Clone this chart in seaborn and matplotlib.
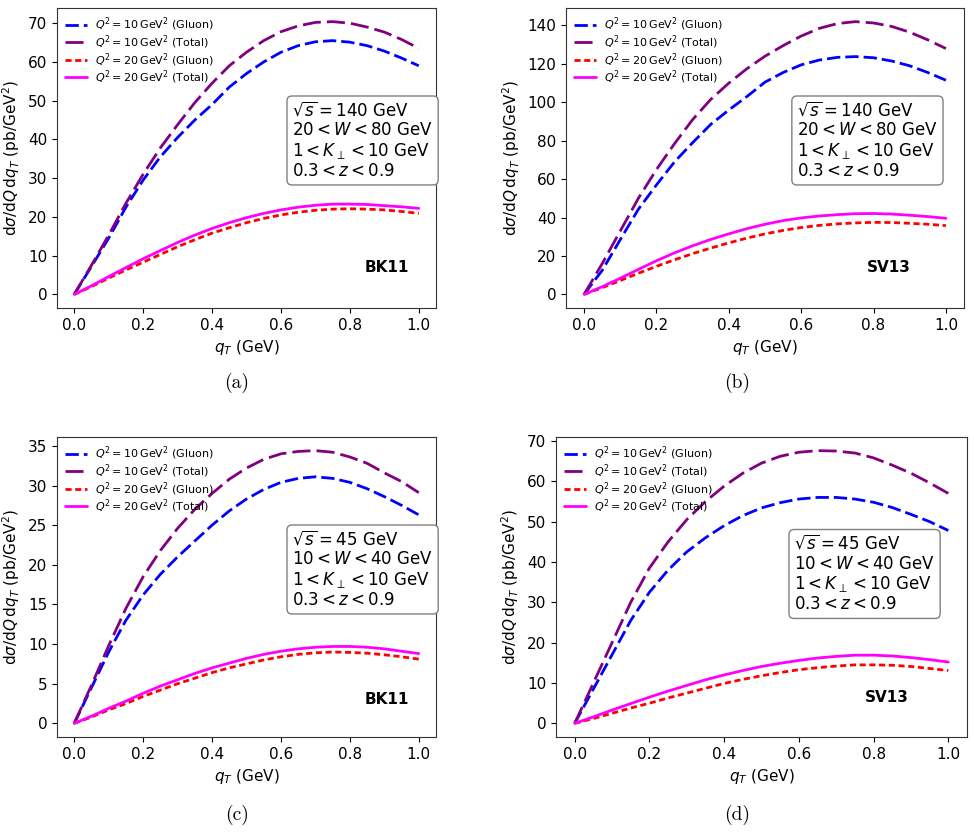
import numpy as np
import pandas as pd
import seaborn as sns
from matplotlib import pyplot as plt

q_T = [0.0, 0.05, 0.1, 0.15, 0.2, 0.25, 0.3, 0.35, 0.4, 0.45, 0.5,
       0.55, 0.6, 0.65, 0.7, 0.75, 0.8, 0.85, 0.9, 0.95, 1.0]

# (a) BK11, sqrt(s) = 140 GeV
a_gluon10 = [0, 7.2, 14.5, 22.5, 29.5, 35.5, 40.5, 45, 49, 53.5, 57,
             60, 62.5, 64.2, 65.2, 65.5, 65.1, 64.2, 62.8, 61, 59]
a_total10 = [0, 7.5, 15.3, 23.5, 31, 37.8, 43.8, 49.5, 54.5, 59, 62.5,
             65.5, 67.8, 69.3, 70.2, 70.4, 70, 69, 67.7, 65.8, 63.5]
a_gluon20 = [0, 2.0, 4.2, 6.3, 8.3, 10.3, 12.3, 14.1, 15.8, 17.2, 18.5,
             19.6, 20.5, 21.2, 21.7, 22.0, 22.1, 22.0, 21.8, 21.4, 20.9]
a_total20 = [0, 2.2, 4.6, 6.9, 9.2, 11.3, 13.4, 15.3, 17.0, 18.5, 19.8,
             20.9, 21.8, 22.5, 23.0, 23.3, 23.3, 23.2, 22.9, 22.6, 22.2]

# (b) SV13, sqrt(s) = 140 GeV
b_gluon10 = [0, 12.5, 28.5, 44.3, 57, 69, 79, 88.5, 96, 103, 110.5,
             115.5, 119.5, 122, 123.4, 123.8, 123.2, 121.5, 119, 115.5, 111.5]
b_total10 = [0, 16, 33, 50, 65, 78.5, 91, 101.5, 110, 117.5, 124,
             129.5, 134.5, 138.5, 141, 142, 141.3, 139.5, 136.5, 132.5, 128]
b_gluon20 = [0, 3.5, 7.2, 11.0, 14.6, 18.0, 21.2, 24.1, 26.8, 29.3, 31.5,
             33.3, 34.8, 35.9, 36.7, 37.2, 37.5, 37.4, 37.0, 36.5, 35.8]
b_total20 = [0, 4.0, 8.4, 13.0, 17.5, 21.6, 25.3, 28.6, 31.5, 34.2, 36.5,
             38.4, 39.8, 40.8, 41.5, 42.0, 42.1, 41.8, 41.2, 40.5, 39.6]

# (c) BK11, sqrt(s) = 45 GeV
c_gluon10 = [0, 4.5, 9.0, 13, 16.2, 18.8, 21, 23, 25, 26.8, 28.3,
             29.5, 30.4, 30.9, 31.1, 30.9, 30.4, 29.6, 28.6, 27.5, 26.3]
c_total10 = [0, 4.8, 9.8, 14.5, 18.5, 21.8, 24.6, 27, 29, 30.8, 32.2,
             33.3, 34, 34.3, 34.4, 34.2, 33.6, 32.8, 31.6, 30.5, 29.1]
c_gluon20 = [0, 0.8, 1.7, 2.5, 3.4, 4.2, 5.0, 5.7, 6.4, 7.0, 7.5,
             8.0, 8.4, 8.7, 8.9, 9.0, 8.95, 8.85, 8.65, 8.4, 8.1]
c_total20 = [0, 0.9, 1.9, 2.8, 3.8, 4.7, 5.5, 6.3, 7.0, 7.6, 8.2,
             8.7, 9.1, 9.4, 9.6, 9.7, 9.7, 9.6, 9.4, 9.1, 8.8]

# (d) SV13, sqrt(s) = 45 GeV
d_gluon10 = [0, 8.5, 17, 25.5, 32.5, 38, 42.5, 46, 49, 51.5, 53.4,
             54.7, 55.6, 56, 56, 55.6, 54.8, 53.5, 51.8, 50, 47.8]
d_total10 = [0, 10, 20, 30, 38.5, 45, 50.5, 55, 58.8, 62, 64.5,
             66.2, 67.2, 67.6, 67.5, 67, 65.8, 64, 62, 59.6, 57]
d_gluon20 = [0, 1.2, 2.5, 3.8, 5.0, 6.3, 7.5, 8.7, 9.9, 10.9, 11.8,
             12.6, 13.3, 13.8, 14.2, 14.5, 14.5, 14.4, 14.1, 13.6, 13.1]
d_total20 = [0, 1.6, 3.3, 4.9, 6.5, 8.0, 9.4, 10.8, 12.0, 13.1, 14.1,
             14.9, 15.6, 16.2, 16.6, 16.9, 16.9, 16.7, 16.3, 15.8, 15.2]

series_labels = [r'$Q^2 = 10\,\mathrm{GeV}^2$ (Gluon)',
                 r'$Q^2 = 10\,\mathrm{GeV}^2$ (Total)',
                 r'$Q^2 = 20\,\mathrm{GeV}^2$ (Gluon)',
                 r'$Q^2 = 20\,\mathrm{GeV}^2$ (Total)']

panels = [
    dict(data=[a_gluon10, a_total10, a_gluon20, a_total20], model='BK11', caption='(a)',
         info='$\\sqrt{s} = 140$ GeV\n$20 < W < 80$ GeV\n$1 < K_\\perp < 10$ GeV\n$0.3 < z < 0.9$'),
    dict(data=[b_gluon10, b_total10, b_gluon20, b_total20], model='SV13', caption='(b)',
         info='$\\sqrt{s} = 140$ GeV\n$20 < W < 80$ GeV\n$1 < K_\\perp < 10$ GeV\n$0.3 < z < 0.9$'),
    dict(data=[c_gluon10, c_total10, c_gluon20, c_total20], model='BK11', caption='(c)',
         info='$\\sqrt{s} = 45$ GeV\n$10 < W < 40$ GeV\n$1 < K_\\perp < 10$ GeV\n$0.3 < z < 0.9$'),
    dict(data=[d_gluon10, d_total10, d_gluon20, d_total20], model='SV13', caption='(d)',
         info='$\\sqrt{s} = 45$ GeV\n$10 < W < 40$ GeV\n$1 < K_\\perp < 10$ GeV\n$0.3 < z < 0.9$'),
]

colors = ['blue', 'purple', 'red', 'magenta']
styles = [(0, (4.8, 1.8)), (0, (6.5, 2.2)), (0, (2.2, 1.3)), '-']

sns.set_style('ticks')
plt.rcParams['font.family'] = ['DejaVu Sans']
plt.rcParams.update({'text.color': 'black', 'axes.labelcolor': 'black',
                     'xtick.color': 'black', 'ytick.color': 'black',
                     'axes.edgecolor': '0.2'})

W, H = 974, 835
fig = plt.figure(figsize=(W / 100, H / 100), dpi=100)

# pixel boxes: left, right, top, bottom
boxes = [(57, 436, 8, 308), (566, 964, 8, 308), (57, 436, 437, 737), (556, 967, 437, 737)]
info_pos = [(0.62, 0.69), (0.58, 0.69), (0.62, 0.69), (0.579, 0.675)]
model_pos = [(0.87, 0.135), (0.81, 0.135), (0.87, 0.125), (0.805, 0.13)]
caption_pos = [(0.243, 0.541), (0.757, 0.541), (0.243, 0.024), (0.757, 0.024)]

for p, (l, r, t, b), ip, mp, cp in zip(panels, boxes, info_pos, model_pos, caption_pos):
    ax = fig.add_axes([l / W, 1 - b / H, (r - l) / W, (b - t) / H])
    for vals, c, ls, lab in zip(p['data'], colors, styles, series_labels):
        sns.lineplot(x=q_T, y=vals, ax=ax, color=c, linestyle=ls, lw=2, label=lab)
    ax.legend(loc='upper left', frameon=False, fontsize=8, handlelength=2.0,
              borderaxespad=0.3, labelspacing=0.0, handletextpad=0.7)
    ax.text(ip[0], ip[1], p['info'], transform=ax.transAxes, ha='left', va='top',
            fontsize=12, linespacing=1.1,
            bbox=dict(boxstyle='round,pad=0.3', fc='white', ec='gray'))
    ax.text(mp[0], mp[1], p['model'], transform=ax.transAxes, ha='center', va='center',
            fontsize=11, fontweight='bold')
    ax.set_xlabel(r'$q_T$ (GeV)', fontsize=11)
    ax.set_ylabel(r'$\mathrm{d}\sigma/\mathrm{d}Q\,\mathrm{d}q_T$ (pb/GeV$^2$)', fontsize=11)
    ax.tick_params(labelsize=11)
    fig.text(cp[0], cp[1], p['caption'], ha='center', va='center', fontsize=14,
             family='cmr10')

plt.savefig('out.png', dpi=100)
